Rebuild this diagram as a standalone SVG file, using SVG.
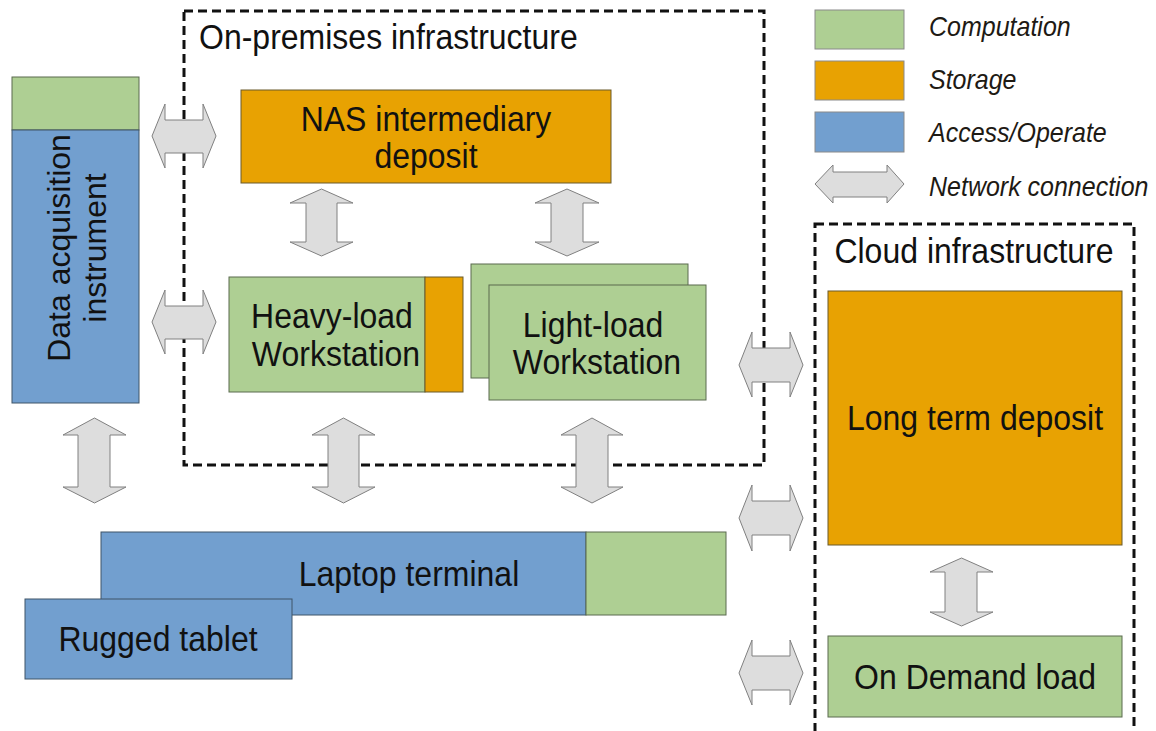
<svg xmlns="http://www.w3.org/2000/svg" width="1156" height="731" viewBox="0 0 1156 731">
<style>
.g{fill:#AECF93;stroke:#5a6b4f;stroke-width:1}
.o{fill:#E8A202;stroke:#6b5a2a;stroke-width:1}
.b{fill:#729FCF;stroke:#3f5468;stroke-width:1}
.lg{stroke:#8a8a8a}
.t{font-family:"Liberation Sans",Arial,sans-serif;font-size:32px;fill:#111;text-anchor:middle}
.lt{font-family:"Liberation Sans",Arial,sans-serif;font-size:25px;font-style:italic;fill:#1e1a14}
.box{fill:none;stroke:#111;stroke-width:3;stroke-dasharray:9 5}
.ar{fill:#DDDDDD;stroke:#808080;stroke-width:1;stroke-linejoin:miter}
</style>
<rect width="1156" height="731" fill="#fff"/>
<g id="on-premises">
<rect class="box" x="184" y="11" width="580" height="454"/>
<text class="t" transform="translate(199,49) scale(1,1.12)" style="text-anchor:start">On-premises infrastructure</text>
</g>
<g id="cloud">
<rect class="box" x="815" y="224" width="319" height="530"/>
<text class="t" transform="translate(974,263) scale(1,1.12)">Cloud infrastructure</text>
</g>
<g id="legend">
<rect class="g lg" x="815" y="10" width="89" height="39"/>
<rect class="o lg" x="815" y="61" width="89" height="39"/>
<rect class="b lg" x="815" y="112" width="89" height="40"/>
<path class="ar" d="M815,184 L833,165 L833,172 L887,172 L887,165 L904,184 L887,203 L887,197 L833,197 L833,203 Z"/>
<text class="lt" transform="translate(929,36) scale(1,1.1)">Computation</text>
<text class="lt" transform="translate(929,89) scale(1,1.1)">Storage</text>
<text class="lt" transform="translate(929,142) scale(1,1.1)">Access/Operate</text>
<text class="lt" transform="translate(929,196) scale(1,1.1)">Network connection</text>
</g>
<g id="nas">
<rect class="o" x="241" y="90" width="370" height="93"/>
<text class="t" transform="translate(426,131) scale(1,1.12)">NAS intermediary</text>
<text class="t" transform="translate(426,168) scale(1,1.12)">deposit</text>
</g>
<g id="data-acquisition">
<rect class="g" x="12" y="77" width="127" height="53"/>
<rect class="b" x="12" y="130" width="127" height="273"/>
<g transform="translate(75,248) rotate(-90)">
<text class="t" x="0" y="-5">Data acquisition</text>
<text class="t" x="0" y="31">instrument</text>
</g>
</g>
<g id="heavy-load">
<rect class="g" x="229" y="277" width="196" height="115"/>
<rect class="o" x="425" y="277" width="38" height="115"/>
<text class="t" transform="translate(332,328) scale(1,1.12)">Heavy-load</text>
<text class="t" transform="translate(336,366) scale(1,1.12)">Workstation</text>
</g>
<g id="light-load">
<rect class="g" x="471" y="264" width="217" height="114"/>
<rect class="g" x="489" y="285" width="217" height="115"/>
<text class="t" transform="translate(593,337) scale(1,1.12)">Light-load</text>
<text class="t" transform="translate(597,374) scale(1,1.12)">Workstation</text>
</g>
<g id="laptop">
<rect class="b" x="101" y="532" width="485" height="83"/>
<rect class="g" x="586" y="532" width="140" height="83"/>
<text class="t" transform="translate(409,586) scale(1,1.12)">Laptop terminal</text>
</g>
<g id="tablet">
<rect class="b" x="25" y="599" width="267" height="80"/>
<text class="t" transform="translate(158,651) scale(1,1.12)">Rugged tablet</text>
</g>
<g id="long-term">
<rect class="o" x="828" y="291" width="294" height="254"/>
<text class="t" transform="translate(975,430) scale(1,1.12)">Long term deposit</text>
</g>
<g id="on-demand">
<rect class="g" x="828" y="636" width="294" height="81"/>
<text class="t" transform="translate(975,689) scale(1,1.12)">On Demand load</text>
</g>
<g id="connectors">
<path class="ar" d="M152,136 L165,104 L165,120 L203,120 L203,104 L216,136 L203,168 L203,153 L165,153 L165,168 Z"/>
<path class="ar" d="M152,322 L165,290 L165,306 L203,306 L203,290 L216,322 L203,354 L203,339 L165,339 L165,354 Z"/>
<path class="ar" d="M739,365 L752,332 L752,348 L790,348 L790,332 L803,365 L790,397 L790,382 L752,382 L752,397 Z"/>
<path class="ar" d="M739,518 L752,485 L752,501 L790,501 L790,485 L803,518 L790,551 L790,535 L752,535 L752,551 Z"/>
<path class="ar" d="M739,673 L752,640 L752,656 L790,656 L790,640 L803,673 L790,705 L790,690 L752,690 L752,705 Z"/>
<path class="ar" d="M321.5,189 L353,203 L337,203 L337,242 L353,242 L321.5,256 L290,242 L306,242 L306,203 L290,203 Z"/>
<path class="ar" d="M567,189 L599,203 L583,203 L583,242 L599,242 L567,256 L535,242 L551,242 L551,203 L535,203 Z"/>
<path class="ar" d="M94.5,418 L126,435 L110,435 L110,487 L126,487 L94.5,503 L63,487 L78,487 L78,435 L63,435 Z"/>
<path class="ar" d="M343.5,418 L375,435 L359,435 L359,487 L375,487 L343.5,503 L312,487 L328,487 L328,435 L312,435 Z"/>
<path class="ar" d="M592,418 L623,435 L608,435 L608,487 L623,487 L592,503 L561,487 L576,487 L576,435 L561,435 Z"/>
<path class="ar" d="M961.5,558 L993,572 L977,572 L977,612 L993,612 L961.5,626 L930,612 L945,612 L945,572 L930,572 Z"/>
</g>
</svg>
